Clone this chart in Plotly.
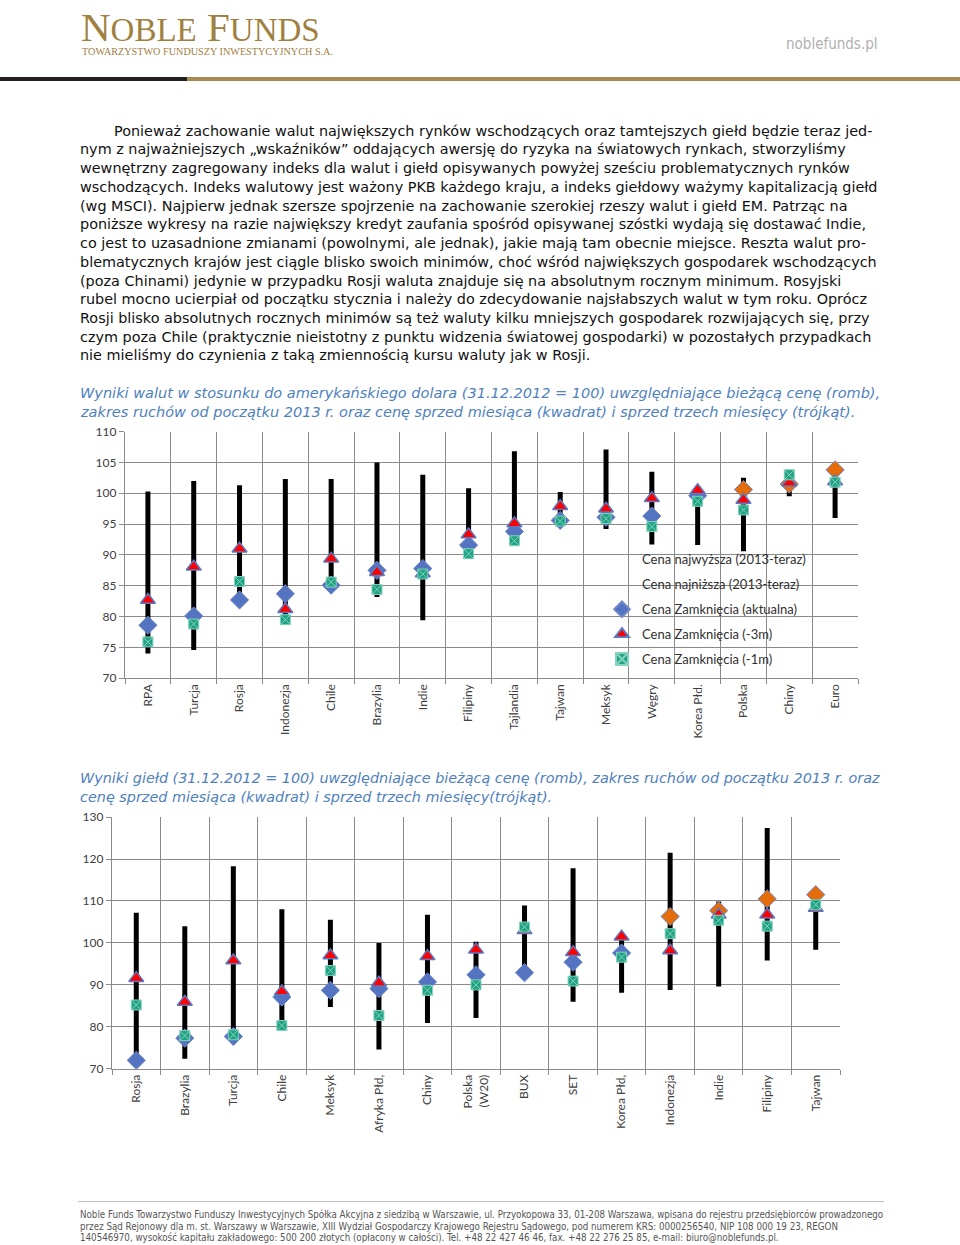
import plotly.graph_objects as go

W, H = 960, 1245

# ---------------- DATA ----------------
fx_cats = ["RPA", "Turcja", "Rosja", "Indonezja", "Chile", "Brazylia", "Indie", "Filipiny",
           "Tajlandia", "Tajwan", "Meksyk", "Węgry", "Korea Płd.", "Polska", "Chiny", "Euro"]
fx_high = [100.3, 102.0, 101.3, 102.3, 102.3, 105.0, 103.0, 100.8,
           106.8, 100.2, 107.1, 103.5, 101.0, 102.5, 103.0, 103.8]
fx_low = [74.0, 74.6, 82.7, 78.8, 85.1, 83.2, 79.4, 90.2,
          92.3, 95.6, 94.2, 91.7, 91.6, 90.6, 99.5, 96.0]
fx_now = [78.6, 80.1, 82.7, 83.7, 85.1, 87.5, 87.8, 91.6,
          93.8, 95.6, 96.1, 96.3, 99.6, 100.6, 101.5, 103.8]
fx_3m = [82.7, 88.1, 91.0, 81.2, 89.4, 87.2, 87.0, 93.3,
         95.1, 97.9, 97.5, 99.2, 100.5, 98.9, 101.7, 101.9]
fx_1m = [75.9, 78.8, 85.7, 79.5, 85.6, 84.4, 86.9, 90.2,
         92.3, 95.5, 95.9, 94.6, 98.7, 97.3, 103.0, 101.8]

eq_cats = ["Rosja", "Brazylia", "Turcja", "Chile", "Meksyk", "Afryka Płd,", "Chiny", "Polska<br>(W20)",
           "BUX", "SET", "Korea Płd,", "Indonezja", "Indie", "Filipiny", "Tajwan"]
eq_high = [107.2, 104.0, 118.3, 108.0, 105.5, 100.0, 106.7, 100.3,
           108.9, 117.8, 101.8, 121.5, 109.9, 127.4, 111.5]
eq_low = [72.0, 72.4, 77.7, 79.1, 84.7, 74.6, 80.9, 82.1,
          92.9, 86.0, 88.1, 88.8, 89.6, 95.8, 98.4]
eq_now = [72.0, 77.3, 77.7, 87.1, 88.7, 89.1, 90.7, 92.4,
          92.9, 95.4, 97.6, 106.3, 107.7, 110.5, 111.5]
eq_3m = [91.6, 85.9, 95.8, 88.4, 97.0, 90.5, 96.8, 98.4,
         103.0, 97.8, 101.5, 98.2, 106.7, 106.7, 108.3]
eq_1m = [85.2, 77.9, 78.1, 80.3, 93.4, 82.7, 88.7, 90.0,
         103.8, 90.9, 96.6, 102.2, 105.4, 104.0, 109.1]

series_names = ["Cena najwyższa (2013-teraz)", "Cena najniższa (2013-teraz)",
                "Cena Zamknięcia (aktualna)", "Cena Zamknięcia (-3m)", "Cena Zamknięcia (-1m)"]

body_lines = [
    "Ponieważ zachowanie walut największych rynków wschodzących oraz tamtejszych giełd będzie teraz jed-",
    "nym z najważniejszych „wskaźników” oddających awersję do ryzyka na światowych rynkach, stworzyliśmy",
    "wewnętrzny zagregowany indeks dla walut i giełd opisywanych powyżej sześciu problematycznych rynków",
    "wschodzących. Indeks walutowy jest ważony PKB każdego kraju, a indeks giełdowy ważymy kapitalizacją giełd",
    "(wg MSCI). Najpierw jednak szersze spojrzenie na zachowanie szerokiej rzeszy walut i giełd EM. Patrząc na",
    "poniższe wykresy na razie największy kredyt zaufania spośród opisywanej szóstki wydają się dostawać Indie,",
    "co jest to uzasadnione zmianami (powolnymi, ale jednak), jakie mają tam obecnie miejsce. Reszta walut pro-",
    "blematycznych krajów jest ciągle blisko swoich minimów, choć wśród największych gospodarek wschodzących",
    "(poza Chinami) jedynie w przypadku Rosji waluta znajduje się na absolutnym rocznym minimum. Rosyjski",
    "rubel mocno ucierpiał od początku stycznia i należy do zdecydowanie najsłabszych walut w tym roku. Oprócz",
    "Rosji blisko absolutnych rocznych minimów są też waluty kilku mniejszych gospodarek rozwijających się, przy",
    "czym poza Chile (praktycznie nieistotny z punktu widzenia światowej gospodarki) w pozostałych przypadkach",
    "nie mieliśmy do czynienia z taką zmiennością kursu waluty jak w Rosji.",
]
caption1 = ["Wyniki walut w stosunku do amerykańskiego dolara (31.12.2012 = 100) uwzględniające bieżącą cenę (romb),",
            "zakres ruchów od początku 2013 r. oraz cenę sprzed miesiąca (kwadrat) i sprzed trzech miesięcy (trójkąt)."]
caption2 = ["Wyniki giełd (31.12.2012 = 100) uwzględniające bieżącą cenę (romb), zakres ruchów od początku 2013 r. oraz",
            "cenę sprzed miesiąca (kwadrat) i sprzed trzech miesięcy(trójkąt)."]
footer_lines = [
    "Noble Funds Towarzystwo Funduszy Inwestycyjnych Spółka Akcyjna z siedzibą w Warszawie, ul. Przyokopowa 33, 01-208 Warszawa, wpisana do rejestru przedsiębiorców prowadzonego",
    "przez Sąd Rejonowy dla m. st. Warszawy w Warszawie, XIII Wydział Gospodarczy Krajowego Rejestru Sądowego, pod numerem KRS: 0000256540, NIP 108 000 19 23, REGON",
    "140546970, wysokość kapitału zakładowego: 500 200 złotych (opłacony w całości). Tel. +48 22 427 46 46, fax. +48 22 276 25 85, e-mail: biuro@noblefunds.pl.",
]

# ---------------- STYLE ----------------
BLUE = "#5473c0"
ORANGE = "#e46c0a"
RED = "#ff0000"
TEAL = "#1fa383"
GRID = "#8a8a8a"
AXFONT = dict(family="Lato, Liberation Sans, sans-serif", size=12, color="#404040")
BODY = "DejaVu Sans, Noto Sans, sans-serif"

# the photographed page shows the figure slightly offset/compressed vertically;
# map target pixel rows to figure rows to compensate
Y_OFF, Y_SCALE = 6.8, 0.9893


def px(x):
    return x / W


def py(y):
    yf = (y - Y_OFF) / Y_SCALE
    return 1 - yf / H


fig = go.Figure()


def add_chart(cats, high, low, now, m3, m1, xa, ya, legend):
    lx, ly = [], []
    for c, h, l in zip(cats, high, low):
        lx += [c, c, None]
        ly += [l, h, None]
    fig.add_trace(go.Scatter(x=lx, y=ly, mode="lines", line=dict(color="black", width=5),
                             xaxis=xa, yaxis=ya, showlegend=False, hoverinfo="skip"))
    fig.add_trace(go.Scatter(x=cats, y=high, mode="markers", name=series_names[0],
                             marker=dict(size=1, color="rgba(0,0,0,0)"), xaxis=xa, yaxis=ya,
                             showlegend=legend, legendgroup="a"))
    fig.add_trace(go.Scatter(x=cats, y=low, mode="markers", name=series_names[1],
                             marker=dict(size=1, color="rgba(0,0,0,0)"), xaxis=xa, yaxis=ya,
                             showlegend=legend, legendgroup="b"))
    cols = [ORANGE if v > 100 else BLUE for v in now]
    fig.add_trace(go.Scatter(x=cats, y=now, mode="markers", name=series_names[2],
                             marker=dict(symbol="diamond", size=14, color=cols,
                                         line=dict(color="#7088c8", width=1)),
                             xaxis=xa, yaxis=ya, showlegend=legend, legendgroup="c"))
    fig.add_trace(go.Scatter(x=cats, y=m3, mode="markers", name=series_names[3],
                             marker=dict(symbol="triangle-up", size=13, color=RED,
                                         line=dict(color="#5a78c4", width=1.5)),
                             xaxis=xa, yaxis=ya, showlegend=legend, legendgroup="d"))
    fig.add_trace(go.Scatter(x=cats, y=m1, mode="markers", name=series_names[4],
                             marker=dict(symbol="square-x", size=10, color=TEAL,
                                         line=dict(color="#86d2bf", width=1)),
                             xaxis=xa, yaxis=ya, showlegend=legend, legendgroup="e"))


add_chart(fx_cats, fx_high, fx_low, fx_now, fx_3m, fx_1m, "x", "y", True)
add_chart(eq_cats, eq_high, eq_low, eq_now, eq_3m, eq_1m, "x2", "y2", False)

xcommon = dict(type="category", tickson="boundaries", showgrid=True, gridcolor=GRID, gridwidth=1.3,
               showline=True, linecolor=GRID, linewidth=1.3, ticks="outside", ticklen=5,
               tickcolor=GRID, tickangle=-90, tickfont=AXFONT, zeroline=False, fixedrange=True)
ycommon = dict(showgrid=True, gridcolor=GRID, gridwidth=1.3, showline=True, linecolor=GRID,
               linewidth=1.3, ticks="outside", ticklen=5, tickcolor=GRID, tickfont=AXFONT,
               zeroline=False, fixedrange=True)

fig.update_layout(
    width=W, height=H, margin=dict(l=0, r=0, t=0, b=0),
    paper_bgcolor="white", plot_bgcolor="white",
    xaxis=dict(domain=[px(125), px(858)], anchor="y", range=[-0.5, len(fx_cats) - 0.5], **xcommon),
    yaxis=dict(domain=[py(678), py(431)], range=[70, 110], dtick=5, anchor="x", **ycommon),
    xaxis2=dict(domain=[px(112), px(840)], anchor="y2", range=[-0.5, len(eq_cats) - 0.5], **xcommon),
    yaxis2=dict(domain=[py(1069), py(817)], range=[70, 130], dtick=10, anchor="x2", **ycommon),
    legend=dict(x=px(602), y=py(544), xanchor="left", yanchor="top", bgcolor="rgba(0,0,0,0)",
                font=dict(family="Lato, Liberation Sans, sans-serif", size=13, color="#303030"),
                traceorder="grouped", tracegroupgap=5, itemsizing="constant"),
    showlegend=True,
)

ann = []
ann.append(dict(x=px(79), y=py(25.7), xanchor="left", yanchor="middle",
                text="N<span style='font-size:33px'>OBLE</span> F<span style='font-size:33px'>UNDS</span>",
                font=dict(family="Liberation Serif, DejaVu Serif, serif", size=41, color="#a0803f")))
ann.append(dict(x=px(80), y=py(50), xanchor="left", yanchor="middle",
                text="TOWARZYSTWO FUNDUSZY INWESTYCYJNYCH S.A.",
                font=dict(family="Liberation Serif, DejaVu Serif, serif", size=10.2, color="#a0803f")))
ann.append(dict(x=px(880), y=py(43), xanchor="right", yanchor="middle", text="noblefunds.pl",
                font=dict(family="DejaVu Sans Condensed, Liberation Sans Narrow, sans-serif", size=15, color="#b0b0b0")))

body_y = [130, 148, 167, 186, 205, 223, 242, 261, 280, 298, 317, 336, 354]
for i, (t, yy) in enumerate(zip(body_lines, body_y)):
    ann.append(dict(x=px(112 if i == 0 else 78), y=py(yy), xanchor="left", yanchor="middle", text=t,
                    font=dict(family=BODY, size=14.4, color="#111111")))
for t, yy in zip(caption1, [392, 411]):
    ann.append(dict(x=px(78), y=py(yy), xanchor="left", yanchor="middle", text="<i>" + t + "</i>",
                    font=dict(family=BODY, size=14.5, color="#4f81bd")))
for t, yy in zip(caption2, [778, 797]):
    ann.append(dict(x=px(78), y=py(yy), xanchor="left", yanchor="middle", text="<i>" + t + "</i>",
                    font=dict(family=BODY, size=14.4, color="#4f81bd")))
for t, yy in zip(footer_lines, [1215, 1227, 1238]):
    ann.append(dict(x=px(78), y=py(yy), xanchor="left", yanchor="middle", text=t,
                    font=dict(family="Liberation Sans Narrow, DejaVu Sans Condensed, sans-serif", size=9.7, color="#555555")))
for a in ann:
    a.update(xref="paper", yref="paper", showarrow=False)
fig.update_layout(annotations=ann)

fig.update_layout(shapes=[
    dict(type="rect", xref="paper", yref="paper", x0=0, x1=px(187), y0=py(80), y1=py(76),
         fillcolor="#231f20", line=dict(width=0)),
    dict(type="rect", xref="paper", yref="paper", x0=px(187), x1=1, y0=py(80), y1=py(76),
         fillcolor="#a8894f", line=dict(width=0)),
    dict(type="line", xref="paper", yref="paper", x0=px(78), x1=px(884), y0=py(1202), y1=py(1202),
         line=dict(color="#bbbbbb", width=1)),
])

post = ("document.documentElement.style.margin='0';document.documentElement.style.overflow='hidden';"
        "document.body.style.margin='0';document.body.style.padding='0';"
        "document.body.style.overflow='hidden';"
        "var d=document.getElementById('{plot_id}');var p=d.parentElement;"
        "p.style.position='absolute';p.style.left='0';p.style.top='0';"
        "d.style.position='absolute';d.style.left='0';d.style.top='0';")
fig.write_html("out.html", post_script=post, config={"displayModeBar": False})
